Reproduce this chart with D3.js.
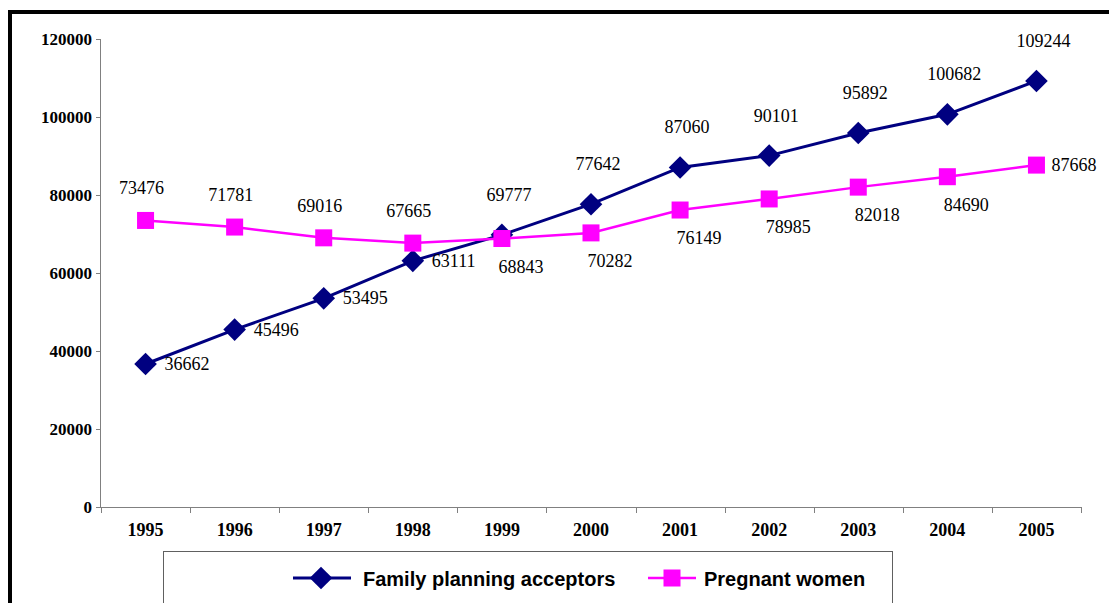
<!DOCTYPE html>
<html>
<head>
<meta charset="utf-8">
<script src="https://cdn.jsdelivr.net/npm/d3@7"></script>
<style>
  html, body { margin: 0; padding: 0; background: #fff; overflow: hidden; }
  svg { display: block; }
</style>
</head>
<body>
<svg id="chart" width="1109" height="603"></svg>
<script>
// ---- data ----
const years = ["1995","1996","1997","1998","1999","2000","2001","2002","2003","2004","2005"];
const familyPlanning = [36662, 45496, 53495, 63111, 69777, 77642, 87060, 90101, 95892, 100682, 109244];
const pregnantWomen = [73476, 71781, 69016, 67665, 68843, 70282, 76149, 78985, 82018, 84690, 87668];
const yTicks = [0, 20000, 40000, 60000, 80000, 100000, 120000];
const seriesNames = ["Family planning acceptors", "Pregnant women"];
// label placement per point
const fpLabelPos = ["right","right","right","right","above","above","above","above","above","above","above"];
const pwLabelPos = ["above","above","above","above","below","below","below","below","below","below","right"];

// ---- layout ----
const svg = d3.select("#chart");
const plot = { left: 101, right: 1081, top: 39, bottom: 507 };
const navy = "#000080", magenta = "#FF00FF", axisCol = "#808080";

const x = d3.scaleBand().domain(years).range([plot.left, plot.right]);
const y = d3.scaleLinear().domain([0, 120000]).range([plot.bottom, plot.top]);
const cx = d => x(d) + x.bandwidth() / 2;

// outer frame (thick black, runs off right/bottom)
svg.append("path")
  .attr("d", `M10,${603 + 10} V12 H${1109 + 10}`)
  .attr("fill", "none").attr("stroke", "#000").attr("stroke-width", 4);

// Y axis
const yAxis = svg.append("g").attr("transform", `translate(${plot.left},0)`)
  .call(d3.axisLeft(y).tickValues(yTicks).tickSize(5).tickPadding(5).tickFormat(d3.format("d")));
yAxis.select(".domain").attr("stroke", axisCol).attr("d", `M-0.5,${plot.top}V${plot.bottom}`);
yAxis.selectAll(".tick line").attr("stroke", axisCol);
yAxis.selectAll(".tick text")
  .attr("font-family", "'Liberation Serif', 'Times New Roman', serif")
  .attr("font-weight", "bold").attr("font-size", 17).attr("fill", "#000")
  .attr("x", -9).attr("dy", "0.35em");

// X axis with ticks at category boundaries
const xAxis = svg.append("g").attr("transform", `translate(0,${plot.bottom})`)
  .call(d3.axisBottom(x).tickSize(0).tickPadding(0));
xAxis.select(".domain").attr("stroke", axisCol).attr("d", `M${plot.left},0.5H${plot.right}`);
xAxis.selectAll(".tick text")
  .attr("font-family", "'Liberation Serif', 'Times New Roman', serif")
  .attr("font-weight", "bold").attr("font-size", 18).attr("fill", "#000")
  .attr("y", 29).attr("dy", 0);
const bounds = years.map(d => x(d)).concat([plot.right]);
xAxis.selectAll("line.bound").data(bounds).enter().append("line")
  .attr("class", "bound")
  .attr("x1", d => Math.round(d) + 0.5).attr("x2", d => Math.round(d) + 0.5)
  .attr("y1", 0).attr("y2", 6).attr("stroke", axisCol);

// series
const line = d3.line().x((d, i) => cx(years[i])).y(d => y(d));

// Family planning
svg.append("path").datum(familyPlanning).attr("d", line)
  .attr("fill", "none").attr("stroke", navy).attr("stroke-width", 3);
svg.append("g").selectAll("rect").data(familyPlanning).enter().append("rect")
  .attr("x", -8).attr("y", -8).attr("width", 16).attr("height", 16)
  .attr("transform", (d, i) => `translate(${cx(years[i])},${y(d)}) rotate(45)`)
  .attr("fill", navy);

// Pregnant women
svg.append("path").datum(pregnantWomen).attr("d", line)
  .attr("fill", "none").attr("stroke", magenta).attr("stroke-width", 2.5);
svg.append("g").selectAll("rect").data(pregnantWomen).enter().append("rect")
  .attr("x", (d, i) => cx(years[i]) - 8.5).attr("y", d => y(d) - 8.5)
  .attr("width", 17).attr("height", 17).attr("fill", magenta);

// data labels
const labelFont = "'Liberation Serif', 'Times New Roman', serif";
function addLabels(values, positions, offsets) {
  svg.append("g").selectAll("text").data(values).enter().append("text")
    .attr("font-family", labelFont).attr("font-size", 18).attr("fill", "#000")
    .attr("text-anchor", (d, i) => positions[i] === "right" ? "start" : "middle")
    .attr("x", (d, i) => cx(years[i]) + offsets[positions[i]].dx)
    .attr("y", (d, i) => y(d) + offsets[positions[i]].dy)
    .text(d => d);
}
addLabels(familyPlanning, fpLabelPos, {
  right: { dx: 19, dy: 6 },
  above: { dx: 7, dy: -34 },
  below: { dx: 0, dy: 34 }
});
addLabels(pregnantWomen, pwLabelPos, {
  right: { dx: 15, dy: 6 },
  above: { dx: -4, dy: -26 },
  below: { dx: 19, dy: 34 }
});

// legend
const lg = svg.append("g");
lg.append("rect").attr("x", 163.5).attr("y", 551.5).attr("width", 729).attr("height", 80)
  .attr("fill", "#fff").attr("stroke", "#606060").attr("stroke-width", 1);
const legendFont = "'Liberation Sans', Arial, sans-serif";
// item 1
lg.append("line").attr("x1", 293).attr("x2", 351).attr("y1", 578).attr("y2", 578)
  .attr("stroke", navy).attr("stroke-width", 3);
lg.append("rect").attr("x", -8).attr("y", -8).attr("width", 16).attr("height", 16)
  .attr("transform", "translate(321,578) rotate(45)").attr("fill", navy);
lg.append("text").attr("x", 363).attr("y", 586)
  .attr("font-family", legendFont).attr("font-weight", "bold").attr("font-size", 20)
  .attr("fill", "#000").text(seriesNames[0]);
// item 2
lg.append("line").attr("x1", 648).attr("x2", 696).attr("y1", 578).attr("y2", 578)
  .attr("stroke", magenta).attr("stroke-width", 2.5);
lg.append("rect").attr("x", 663.5).attr("y", 569.5).attr("width", 17).attr("height", 17)
  .attr("fill", magenta);
lg.append("text").attr("x", 704).attr("y", 586)
  .attr("font-family", legendFont).attr("font-weight", "bold").attr("font-size", 20)
  .attr("fill", "#000").text(seriesNames[1]);
</script>
</body>
</html>
